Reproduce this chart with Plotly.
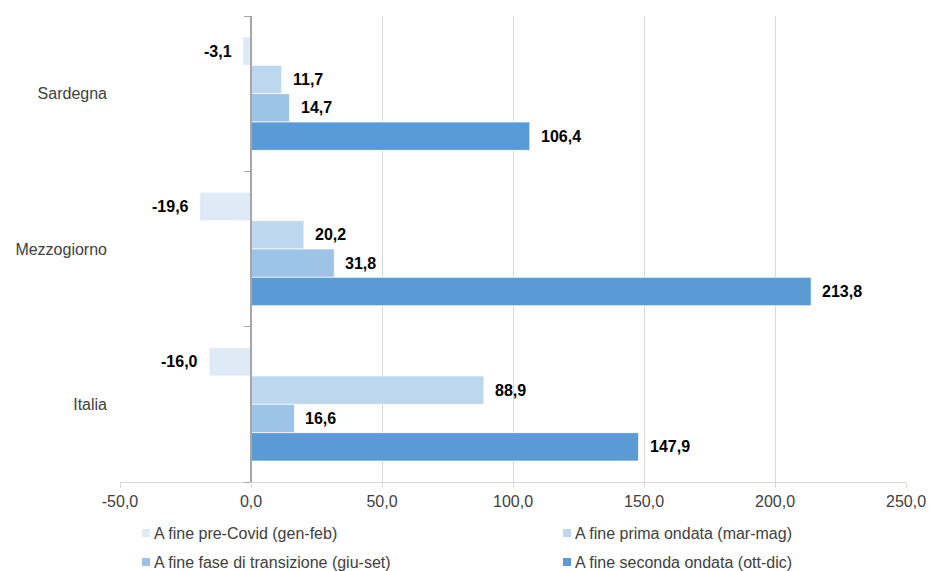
import plotly.graph_objects as go

# Regions (top to bottom) and the four periods
regions = ["Sardegna", "Mezzogiorno", "Italia"]
series_names = [
    "A fine pre-Covid (gen-feb)",
    "A fine prima ondata (mar-mag)",
    "A fine fase di transizione (giu-set)",
    "A fine seconda ondata (ott-dic)",
]
pre_covid = [-3.1, -19.6, -16.0]
prima_ondata = [11.7, 20.2, 88.9]
transizione = [14.7, 31.8, 16.6]
seconda_ondata = [106.4, 213.8, 147.9]
series_values = [pre_covid, prima_ondata, transizione, seconda_ondata]
series_colors = ["#DEEBF7", "#BDD7EE", "#9DC3E6", "#5B9BD5"]

x_ticks = [-50, 0, 50, 100, 150, 200, 250]


def it_num(v):
    return f"{v:.1f}".replace(".", ",")


W, H = 929, 571
ML, MR, MT, MB = 120, 23, 16, 89
PW, PH = W - ML - MR, H - MT - MB
BARGAP = 0.27
FONT = "Liberation Sans, Arial, sans-serif"
TXT = "#404040"

fig = go.Figure()
for name, vals, col in zip(series_names, series_values, series_colors):
    fig.add_trace(go.Bar(
        y=regions, x=vals, name=name, orientation="h",
        marker=dict(color=col, line=dict(color="rgba(255,255,255,0.7)", width=1)),
        showlegend=False,
    ))

# value labels, placed through the overlay axis (index space of the categories)
n = len(series_values)
w = (1 - BARGAP) / n
annotations = []
for i, vals in enumerate(series_values):
    for k, v in enumerate(vals):
        annotations.append(dict(
            x=v, y=k + (i - (n - 1) / 2) * w, xref="x", yref="y2",
            text=f"<b>{it_num(v)}</b>", showarrow=False,
            xanchor="left" if v >= 0 else "right",
            xshift=9 if v >= 0 else -9,
            font=dict(family=FONT, size=16, color="#000000"),
        ))

# legend below the plot: two columns, two rows, small square keys
def px_x(px):
    return (px - ML) / PW


def px_y(py):
    return (H - MB - py) / PH


legend_cols = [142, 563]
legend_rows = [533, 562]
KEY = 8
shapes = []
for i, (name, col) in enumerate(zip(series_names, series_colors)):
    cx = legend_cols[i % 2]
    cy = legend_rows[i // 2]
    shapes.append(dict(
        type="rect", xref="paper", yref="paper",
        x0=px_x(cx), x1=px_x(cx + KEY),
        y0=px_y(cy + KEY / 2), y1=px_y(cy - KEY / 2),
        fillcolor=col, line=dict(width=0),
    ))
    annotations.append(dict(
        x=px_x(cx + KEY + 2), y=px_y(cy), xref="paper", yref="paper",
        text=name, showarrow=False, xanchor="left", yanchor="middle",
        font=dict(family=FONT, size=16, color=TXT),
    ))

fig.update_layout(
    width=W, height=H,
    margin=dict(l=ML, r=MR, t=MT, b=MB, autoexpand=False),
    paper_bgcolor="white", plot_bgcolor="white",
    barmode="group", bargap=BARGAP, bargroupgap=0,
    font=dict(family=FONT, size=16, color=TXT),
    xaxis=dict(
        range=[x_ticks[0], x_ticks[-1]], tickvals=x_ticks,
        ticktext=[it_num(t) for t in x_ticks],
        showgrid=True, gridcolor="#D9D9D9", gridwidth=1,
        zeroline=False, showline=True, linecolor="#D9D9D9", linewidth=1,
        ticks="outside", ticklen=5, tickcolor="#D9D9D9",
        tickfont=dict(size=16, color=TXT),
    ),
    yaxis=dict(
        categoryorder="array", categoryarray=regions, autorange="reversed",
        showgrid=False, zeroline=False, showline=False, ticks="",
        ticklabelstandoff=12, tickfont=dict(size=16, color=TXT),
    ),
    yaxis2=dict(
        overlaying="y", anchor="free",
        position=(0 - x_ticks[0]) / (x_ticks[-1] - x_ticks[0]),
        range=[len(regions) - 0.5, -0.5],
        tickvals=[k - 0.5 for k in range(len(regions) + 1)],
        showticklabels=False, ticks="outside", ticklen=6, tickcolor="#A6A6A6",
        showline=True, linecolor="#A6A6A6", linewidth=1.5,
        showgrid=False, zeroline=False,
    ),
    annotations=annotations,
    shapes=shapes,
    showlegend=False,
)

fig.write_html("out.html")
